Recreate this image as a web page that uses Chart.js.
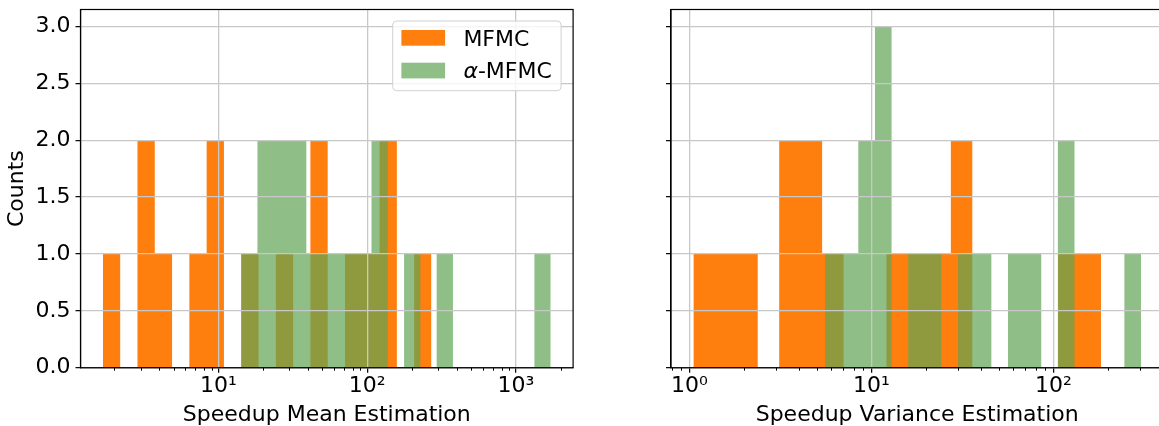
<!DOCTYPE html>
<html>
<head>
<meta charset="utf-8">
<script src="https://cdn.jsdelivr.net/npm/chart.js@4.4.0/dist/chart.umd.min.js"></script>
<style>
html, body { margin: 0; padding: 0; background: #fff; overflow: hidden; width: 1159px; height: 426px; position: relative; }
canvas { position: absolute; top: 0; }
#meanChart { left: 0; }
#varChart { left: 640px; }
</style>
</head>
<body>
<canvas id="meanChart" width="600" height="428"></canvas>
<canvas id="varChart" width="540" height="428"></canvas>
<script>
// 19 log-spaced bins between smallest and largest sample of each series
const meanMfmcRange = [1.672, 270.2];
const meanMfmcCounts = [1, 0, 2, 1, 0, 1, 2, 0, 1, 0, 1, 0, 2, 0, 1, 1, 2, 0, 1];
const meanAlphaRange = [14.21, 1711];
const meanAlphaCounts = [1, 2, 2, 2, 1, 1, 1, 1, 2, 0, 1, 0, 1, 0, 0, 0, 0, 0, 1];

const varMfmcRange = [1.052, 182.9];
const varMfmcCounts = [1, 1, 1, 0, 2, 2, 1, 0, 0, 1, 1, 1, 2, 0, 0, 0, 0, 1, 1];
const varAlphaRange = [5.567, 303.3];
const varAlphaCounts = [1, 1, 2, 3, 0, 1, 1, 0, 1, 1, 0, 1, 1, 0, 2, 0, 0, 0, 1];

const seriesLabels = ['MFMC', 'α-MFMC'];
const xTitles = ['Speedup Mean Estimation', 'Speedup Variance Estimation'];
const yTitle = 'Counts';
const yTicks = [0, 0.5, 1, 1.5, 2, 2.5, 3];
const yMax = 3.15;
const majorExps = [0, 1, 2, 3];
const minorSteps = [2, 3, 4, 5, 6, 7, 8, 9];

const ORANGE = '#ff7f0e';
const GREEN = 'rgba(95, 164, 82, 0.7)';
const GRID = '#c8c8c8';
const FONT = 'DejaVu Sans';
const FS = 22;

Chart.defaults.font.family = FONT;
Chart.defaults.font.size = FS;
Chart.defaults.color = '#000';

const SUP = { '0': '⁰', '1': '¹', '2': '²', '3': '³', '-': '⁻' };

function logEdges(range, n) {
    const a = Math.log10(range[0]), b = Math.log10(range[1]);
    const out = [];
    for (let i = 0; i <= n; i++) out.push(Math.pow(10, a + (b - a) * i / n));
    return out;
}

function histPoints(range, counts) {
    const edges = logEdges(range, counts.length);
    const pts = counts.map((c, i) => ({ x: edges[i], y: c }));
    pts.push({ x: edges[counts.length], y: 0 });
    return pts;
}

// matplotlib-style 5% margin in log space
function paddedLimits(ranges) {
    const lo = Math.log10(Math.min(...ranges.map(r => r[0])));
    const hi = Math.log10(Math.max(...ranges.map(r => r[1])));
    const m = (hi - lo) * 0.05;
    return [Math.pow(10, lo - m), Math.pow(10, hi + m)];
}

// minor log ticks + top/right spines
const frame = {
    id: 'frame',
    afterDraw(chart) {
        const { ctx, chartArea: a } = chart;
        const xs = chart.scales.x;
        ctx.save();
        ctx.strokeStyle = '#000';
        ctx.lineWidth = 1;
        ctx.beginPath();
        const lo = Math.floor(Math.log10(xs.min)), hi = Math.ceil(Math.log10(xs.max));
        for (let k = lo; k <= hi; k++) {
            for (const m of minorSteps) {
                const v = m * Math.pow(10, k);
                if (v < xs.min || v > xs.max) continue;
                const px = Math.round(xs.getPixelForValue(v)) + 0.5;
                ctx.moveTo(px, a.bottom);
                ctx.lineTo(px, a.bottom + 3);
            }
        }
        ctx.stroke();
        ctx.lineWidth = 1.2;
        ctx.strokeRect(a.left, a.top, a.right - a.left, a.bottom - a.top);
        ctx.restore();
    }
};

// legend box inside the axes, upper right
const boxLegend = {
    id: 'boxLegend',
    afterDraw(chart, args, opts) {
        if (!opts.show) return;
        const { ctx, chartArea: a } = chart;
        const normal = FS + 'px "' + FONT + '"';
        const italic = 'italic ' + normal;
        ctx.save();
        const parts = chart.data.datasets.map(ds => {
            const greek = /^[α-ω]/.test(ds.label) ? ds.label[0] : '';
            const rest = ds.label.slice(greek.length);
            ctx.font = italic;
            const gw = greek ? ctx.measureText(greek).width : 0;
            ctx.font = normal;
            return { greek, rest, gw, w: gw + ctx.measureText(rest).width, color: ds.backgroundColor };
        });
        const textW = Math.max(...parts.map(p => p.w));
        const padL = 8.7, handleW = 43.7, handleH = 15.7, gap = 18.3, padR = 9.3, row = 32.7;
        const w = padL + handleW + gap + textW + padR;
        const h = 69.7;
        const right = a.right - 12, top = a.top + 11.5, left = right - w;

        ctx.beginPath();
        ctx.roundRect(left, top, w, h, 4);
        ctx.fillStyle = 'rgba(255,255,255,0.8)';
        ctx.fill();
        ctx.strokeStyle = '#d0d0d0';
        ctx.lineWidth = 1;
        ctx.stroke();

        parts.forEach((p, i) => {
            const y0 = top + 9 + i * row;
            ctx.fillStyle = '#fff';
            ctx.fillRect(left + padL, y0, handleW, handleH);
            ctx.fillStyle = p.color;
            ctx.fillRect(left + padL, y0, handleW, handleH);
            ctx.fillStyle = '#000';
            ctx.textBaseline = 'alphabetic';
            ctx.textAlign = 'left';
            const tx = left + padL + handleW + gap;
            if (p.greek) {
                ctx.font = italic;
                ctx.fillText(p.greek, tx, y0 + handleH);
            }
            ctx.font = normal;
            ctx.fillText(p.rest, tx + p.gw, y0 + handleH);
        });
        ctx.restore();
    }
};

function makeChart(id, mfmc, alpha, xTitle, cfg) {
    const [xmin, xmax] = paddedLimits([mfmc.range, alpha.range]);
    return new Chart(document.getElementById(id), {
        type: 'line',
        data: {
            datasets: [
                {
                    label: seriesLabels[0],
                    data: histPoints(mfmc.range, mfmc.counts),
                    backgroundColor: ORANGE,
                    fill: 'origin',
                    order: 2
                },
                {
                    label: seriesLabels[1],
                    data: histPoints(alpha.range, alpha.counts),
                    backgroundColor: GREEN,
                    fill: 'origin',
                    order: 1
                }
            ]
        },
        options: {
            responsive: false,
            animation: false,
            layout: { autoPadding: false, padding: { top: 9.5, right: cfg.padRight, bottom: 0, left: 0 } },
            elements: {
                point: { radius: 0, hoverRadius: 0 },
                line: { borderWidth: 0, stepped: 'before', tension: 0 }
            },
            scales: {
                x: {
                    type: 'logarithmic',
                    min: xmin,
                    max: xmax,
                    afterBuildTicks: s => {
                        s.ticks = majorExps.map(e => Math.pow(10, e))
                            .filter(v => v >= s.min && v <= s.max)
                            .map(v => ({ value: v }));
                    },
                    afterFit: s => {
                        s.height = 60.3;
                        s.paddingLeft = 0;
                        s.paddingRight = 0;
                    },
                    ticks: {
                        autoSkip: false,
                        maxRotation: 0,
                        padding: 0,
                        callback: v => '10' + String(Math.round(Math.log10(v))).split('').map(c => SUP[c]).join('')
                    },
                    grid: { color: GRID, lineWidth: 1.3, tickColor: '#000', tickLength: 5, tickWidth: 1.2, z: 1 },
                    border: { color: '#000', width: 1.2, z: 1 },
                    title: { display: true, text: xTitle, padding: { top: 0, bottom: 0 } }
                },
                y: {
                    min: 0,
                    max: yMax,
                    afterBuildTicks: s => { s.ticks = yTicks.map(v => ({ value: v })); },
                    afterFit: s => {
                        s.width = cfg.yWidth;
                        s.paddingTop = 0;
                        s.paddingBottom = 0;
                    },
                    ticks: {
                        padding: 5,
                        callback: v => cfg.yLabels ? v.toFixed(1) : ''
                    },
                    grid: { color: GRID, lineWidth: 1.3, tickColor: '#000', tickLength: 5, tickWidth: 1.2, z: 1 },
                    border: { color: '#000', width: 1.2, z: 1 },
                    title: { display: cfg.yLabels, text: yTitle, padding: { top: 4.2, bottom: 0 } }
                }
            },
            plugins: {
                legend: { display: false },
                tooltip: { enabled: false },
                boxLegend: { show: cfg.legend }
            }
        },
        plugins: [frame, boxLegend]
    });
}

makeChart('meanChart',
    { range: meanMfmcRange, counts: meanMfmcCounts },
    { range: meanAlphaRange, counts: meanAlphaCounts },
    xTitles[0], { yLabels: true, legend: true, yWidth: 80.5, padRight: 26.9 });

makeChart('varChart',
    { range: varMfmcRange, counts: varMfmcCounts },
    { range: varAlphaRange, counts: varAlphaCounts },
    xTitles[1], { yLabels: false, legend: false, yWidth: 31, padRight: 16.6 });
</script>
</body>
</html>
